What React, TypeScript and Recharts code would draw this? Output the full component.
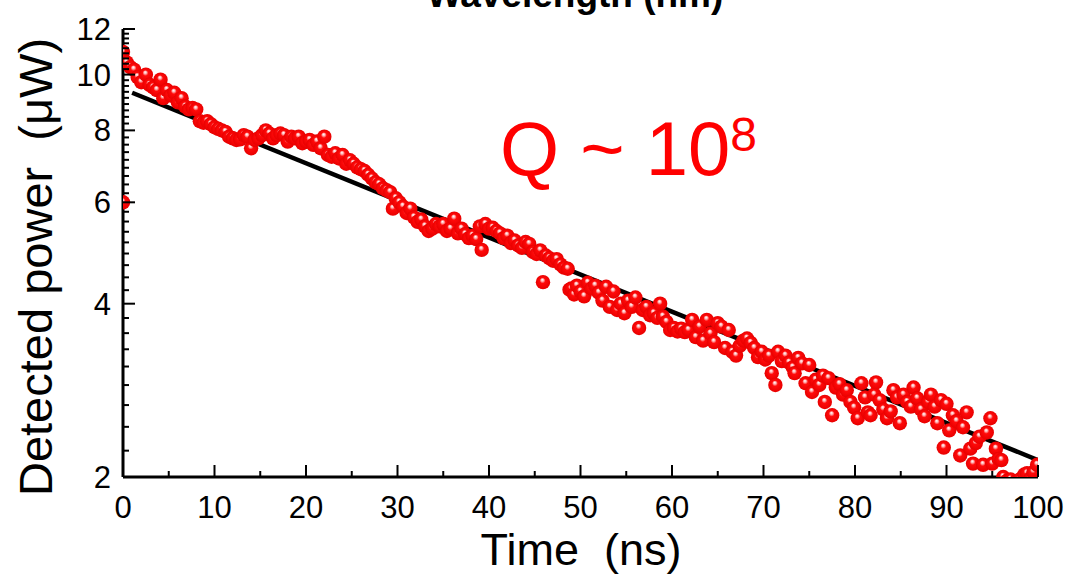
import { ComposedChart, Line, Scatter, XAxis, YAxis } from "recharts";

// measured decay trace (time in ns, power in µW)
const timeNs = [
  0.0, 0.0, 0.4, 0.8, 1.2, 1.6, 2.0, 2.5, 2.9, 3.3, 3.7, 4.1, 4.4, 4.8, 5.2, 5.6, 6.0, 6.4, 6.8, 7.2,
  7.6, 8.0, 8.4, 8.8, 9.2, 9.6, 10.0, 10.4, 10.8, 11.2, 11.6, 12.0, 12.4, 12.8, 13.2, 13.6, 14.0, 14.4, 14.8, 15.2,
  15.6, 16.0, 16.4, 16.8, 17.2, 17.6, 18.0, 18.4, 18.8, 19.2, 19.6, 20.0, 20.4, 20.8, 21.2, 21.6, 22.0, 22.4, 22.8, 23.2,
  23.6, 24.0, 24.4, 24.8, 25.2, 25.6, 26.0, 26.4, 26.8, 27.2, 27.6, 28.0, 28.4, 28.8, 29.2, 29.5, 29.8, 30.2, 30.6, 31.0,
  31.4, 31.8, 32.2, 32.6, 33.0, 33.4, 33.8, 34.2, 34.6, 35.0, 35.4, 35.8, 36.2, 36.6, 37.0, 37.4, 37.8, 38.2, 38.6, 39.0,
  39.2, 39.6, 40.0, 40.4, 40.8, 41.2, 41.6, 42.0, 42.4, 42.8, 43.2, 43.6, 44.0, 44.4, 44.8, 45.2, 45.6, 45.9, 46.2, 46.6,
  47.0, 47.4, 47.8, 48.2, 48.6, 48.8, 49.0, 49.3, 49.6, 50.0, 50.4, 50.8, 51.2, 51.6, 52.0, 52.4, 52.8, 53.2, 53.6, 54.0,
  54.4, 54.8, 55.2, 55.6, 56.0, 56.4, 56.8, 57.2, 57.6, 58.0, 58.4, 58.7, 59.0, 59.4, 59.8, 60.2, 60.6, 61.0, 61.4, 61.8,
  62.2, 62.6, 63.0, 63.4, 63.8, 64.2, 64.6, 65.0, 65.4, 65.8, 66.2, 66.6, 67.0, 67.4, 67.8, 68.2, 68.6, 69.0, 69.4, 69.8,
  70.2, 70.6, 70.9, 71.3, 71.6, 72.0, 72.4, 72.8, 73.2, 73.4, 73.8, 74.2, 74.6, 75.0, 75.3, 75.7, 76.1, 76.5, 76.7, 77.1,
  77.5, 77.9, 78.3, 78.7, 79.1, 79.5, 79.9, 80.3, 80.7, 81.1, 81.4, 81.7, 82.1, 82.3, 82.7, 83.1, 83.5, 83.9, 84.2, 84.6,
  84.9, 85.3, 85.7, 86.1, 86.4, 86.8, 87.2, 87.6, 88.0, 88.3, 88.7, 89.0, 89.4, 89.7, 90.0, 90.3, 90.7, 91.1, 91.5, 91.8,
  92.2, 92.6, 92.9, 93.2, 93.6, 94.0, 94.4, 94.8, 95.0, 95.4, 95.7, 96.0, 96.2, 96.6, 97.0, 97.5, 98.0, 98.5, 98.8, 99.2,
  99.5, 99.9,
];

const powerUW = [
  10.95, 6.0, 10.5, 10.3, 10.2, 9.9, 9.7, 10.0, 9.6, 9.5, 9.4, 9.8, 9.1, 9.4, 9.2, 9.3, 8.95, 9.1, 8.8, 8.7,
  8.75, 8.7, 8.3, 8.25, 8.3, 8.2, 8.1, 8.05, 8.0, 7.95, 7.8, 7.75, 7.7, 7.72, 7.85, 7.8, 7.45, 7.7, 7.75, 7.85,
  8.0, 7.9, 7.75, 7.85, 7.9, 7.85, 7.65, 7.8, 7.75, 7.8, 7.6, 7.65, 7.7, 7.55, 7.65, 7.45, 7.8, 7.25, 7.2, 7.3,
  7.15, 7.25, 7.0, 7.1, 7.0, 6.9, 6.85, 6.8, 6.7, 6.6, 6.5, 6.45, 6.35, 6.3, 6.25, 5.85, 6.1, 6.0, 5.9, 5.75,
  5.85, 5.65, 5.55, 5.6, 5.45, 5.35, 5.4, 5.5, 5.45, 5.5, 5.35, 5.4, 5.62, 5.3, 5.4, 5.28, 5.2, 5.25, 5.18, 5.45,
  4.96, 5.5, 5.4, 5.42, 5.35, 5.3, 5.2, 5.25, 5.1, 5.15, 5.05, 5.0, 5.12, 5.08, 4.92, 4.88, 4.95, 4.36, 4.85, 4.8,
  4.75, 4.78, 4.68, 4.62, 4.6, 4.23, 4.25, 4.15, 4.3, 4.2, 4.12, 4.35, 4.25, 4.3, 4.18, 4.05, 4.28, 3.95, 4.2, 3.9,
  4.0, 3.85, 4.05, 3.95, 4.1, 3.63, 3.9, 3.95, 3.82, 3.85, 3.78, 4.0, 3.8, 3.72, 3.6, 3.63, 3.58, 3.62, 3.57, 3.6,
  3.75, 3.5, 3.65, 3.45, 3.75, 3.55, 3.43, 3.7, 3.65, 3.35, 3.6, 3.3, 3.25, 3.38, 3.45, 3.48, 3.42, 3.35, 3.23, 3.3,
  3.2, 3.25, 3.03, 2.89, 3.3, 3.18, 3.25, 3.16, 3.1, 3.03, 3.22, 3.15, 2.91, 3.13, 2.81, 2.95, 2.89, 3.0, 2.7, 2.97,
  2.56, 2.86, 2.9, 2.78, 2.83, 2.7, 2.64, 2.53, 2.91, 2.75, 2.59, 2.56, 2.78, 2.92, 2.72, 2.62, 2.53, 2.6, 2.83, 2.75,
  2.48, 2.78, 2.7, 2.65, 2.86, 2.74, 2.62, 2.55, 2.7, 2.78, 2.65, 2.48, 2.72, 2.25, 2.68, 2.41, 2.56, 2.5, 2.18, 2.44,
  2.59, 2.24, 2.11, 2.29, 2.35, 2.1, 2.39, 2.53, 2.11, 2.24, 2.15, 2.14, 2.0, 1.97, 1.98, 1.96, 1.98, 2.02, 2.03, 1.99,
  2.04, 2.1,
];

// exponential fit, a straight line on the log axis
const fitTime = [1.0, 100];
const fitPower = [9.3, 2.14];

const xMajor = [0, 10, 20, 30, 40, 50, 60, 70, 80, 90, 100];
const xMinor = [5, 15, 25, 35, 45, 55, 65, 75, 85, 95];
const yMajor = [2, 4, 6, 8, 10, 12];

const points = timeNs.map((t, i) => ({ t, v: powerUW[i] }));
const fit = fitTime.map((t, i) => ({ t, v: fitPower[i] }));

const xTicks = [...xMajor, ...xMinor].sort((a, b) => a - b);
// 8 minor ticks between each pair of major ticks
const yTicks = yMajor.flatMap((m, i) =>
  i < yMajor.length - 1 ? [m, ...[1, 2, 3, 4, 5, 6, 7, 8].map((k) => m + (2 * k) / 9)] : [m]
);

const FONT = '"Liberation Sans", Arial, sans-serif';
const MAJOR = 12;
const MINOR = 6;

function BottomTick({ x, y, payload }: any) {
  const major = xMajor.includes(payload.value);
  return (
    <g>
      <line x1={x} x2={x} y1={y} y2={y - (major ? MAJOR : MINOR)} stroke="#000" strokeWidth={2} />
      {major && (
        <text x={x} y={y + 41} textAnchor="middle" fontSize={31} fontFamily={FONT} fill="#000">
          {payload.value}
        </text>
      )}
    </g>
  );
}

function TopTick({ x, y, payload }: any) {
  const major = xMajor.includes(payload.value);
  return <line x1={x} x2={x} y1={y} y2={y + (major ? MAJOR : MINOR)} stroke="#000" strokeWidth={2} />;
}

function LeftTick({ x, y, payload }: any) {
  const major = yMajor.includes(payload.value);
  return (
    <g>
      <line x1={x} x2={x + (major ? MAJOR : MINOR)} y1={y} y2={y} stroke="#000" strokeWidth={2} />
      {major && (
        <text x={x - 12} y={y + 11} textAnchor="end" fontSize={31} fontFamily={FONT} fill="#000">
          {payload.value}
        </text>
      )}
    </g>
  );
}

function RightTick({ x, y, payload }: any) {
  const major = yMajor.includes(payload.value);
  return <line x1={x} x2={x - (major ? MAJOR : MINOR)} y1={y} y2={y} stroke="#000" strokeWidth={2} />;
}

function Ball({ cx, cy }: any) {
  if (cx == null || cy == null) return null;
  return <circle cx={cx} cy={cy} r={7.2} fill="url(#ball)" />;
}

export default function App() {
  return (
    <div style={{ position: "fixed", left: 0, top: 0, width: 1070, height: 576, background: "#fff" }}>
      <ComposedChart width={1070} height={576} margin={{ top: 29, right: 32, bottom: 0, left: 0 }}>
        <defs>
          <radialGradient id="ball" cx="0.5" cy="0.5" r="0.5" fx="0.45" fy="0.32">
            <stop offset="0%" stopColor="#ffffff" />
            <stop offset="18%" stopColor="#ffb8b8" />
            <stop offset="40%" stopColor="#ff0a0a" />
            <stop offset="100%" stopColor="#e80000" />
          </radialGradient>
        </defs>
        <XAxis
          dataKey="t"
          type="number"
          domain={[0, 100]}
          allowDataOverflow
          ticks={xTicks}
          interval={0}
          height={99}
          tickSize={0}
          tickMargin={0}
          tick={<BottomTick />}
          axisLine={{ stroke: "#000", strokeWidth: 3 }}
        />
        <XAxis
          xAxisId="top"
          orientation="top"
          type="number"
          domain={[0, 100]}
          allowDataOverflow
          ticks={xTicks}
          interval={0}
          height={0}
          tickSize={0}
          tickMargin={0}
          tick={<TopTick />}
          axisLine={{ stroke: "#000", strokeWidth: 3 }}
        />
        <YAxis
          dataKey="v"
          type="number"
          scale="log"
          domain={[2, 12]}
          allowDataOverflow
          ticks={yTicks}
          interval={0}
          width={123}
          tickSize={0}
          tickMargin={0}
          tick={<LeftTick />}
          axisLine={{ stroke: "#000", strokeWidth: 3 }}
        />
        <YAxis
          yAxisId="right"
          orientation="right"
          type="number"
          scale="log"
          domain={[2, 12]}
          allowDataOverflow
          ticks={yTicks}
          interval={0}
          width={0}
          tickSize={0}
          tickMargin={0}
          tick={<RightTick />}
          axisLine={{ stroke: "#000", strokeWidth: 3 }}
        />
        <Scatter data={points} dataKey="v" shape={<Ball />} isAnimationActive={false} />
        <Line
          data={fit}
          dataKey="v"
          type="linear"
          stroke="#000"
          strokeWidth={4.5}
          dot={false}
          activeDot={false}
          isAnimationActive={false}
        />
      </ComposedChart>
      <svg
        width={1070}
        height={576}
        style={{ position: "absolute", left: 0, top: 0, pointerEvents: "none" }}
        fontFamily={FONT}
      >
        <text x={575} y={7} textAnchor="middle" fontSize={37} fontWeight="bold" fill="#000">
          Wavelength (nm)
        </text>
        <text x={500} y={175} fontSize={76} fill="#ff0000" style={{ whiteSpace: "pre" }}>
          Q ~ 10
          <tspan dy={-24} fontSize={48}>8</tspan>
        </text>
        <text
          transform="translate(52,267) rotate(-90)"
          textAnchor="middle"
          fontSize={47}
          fill="#000"
          style={{ whiteSpace: "pre" }}
        >
          Detected power  (μW)
        </text>
        <text x={581} y={565} textAnchor="middle" fontSize={45} fill="#000" style={{ whiteSpace: "pre" }}>
          Time  (ns)
        </text>
      </svg>
    </div>
  );
}
